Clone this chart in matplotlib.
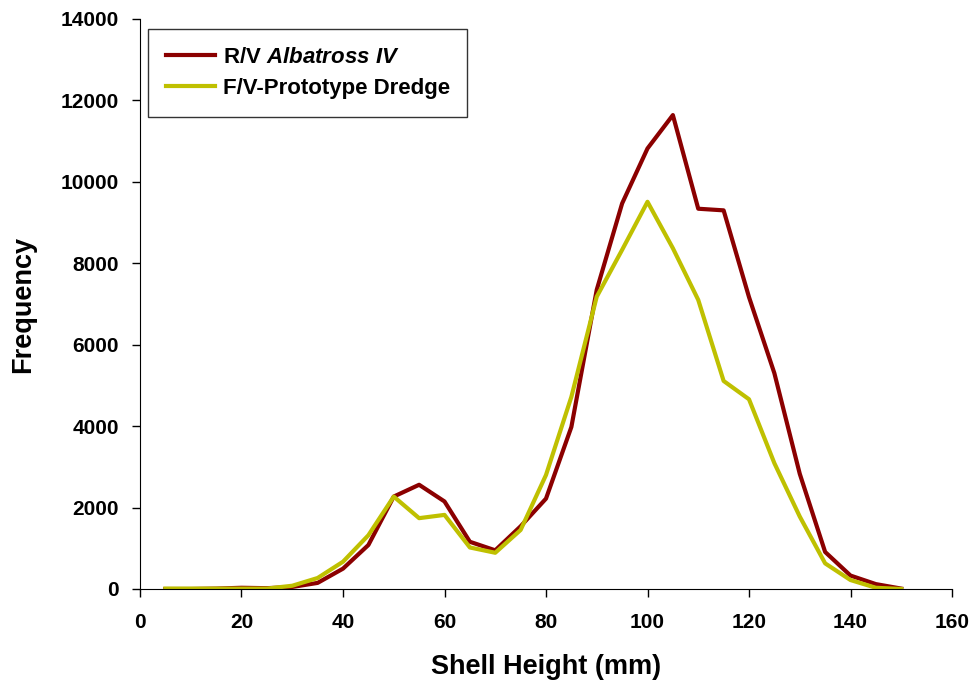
import matplotlib
matplotlib.use("Agg")
import matplotlib.pyplot as plt

plt.rcParams["font.family"] = "Liberation Sans"
plt.rcParams["font.weight"] = "bold"
plt.rcParams["mathtext.fontset"] = "custom"
plt.rcParams["mathtext.it"] = "Liberation Sans:bold:italic"
plt.rcParams["mathtext.rm"] = "Liberation Sans:bold"

# shell height classes (mm)
shell_height = [5, 10, 15, 20, 25, 30, 35, 40, 45, 50, 55, 60, 65, 70, 75,
                80, 85, 90, 95, 100, 105, 110, 115, 120, 125, 130, 135, 140, 145, 150]
albatross = [0, 0, 10, 30, 20, 50, 150, 500, 1080, 2270, 2560, 2150, 1160, 950, 1540,
             2220, 3980, 7350, 9470, 10820, 11640, 9340, 9300, 7170, 5300, 2830, 910, 330, 120, 10]
prototype = [10, 10, 10, 10, 10, 80, 270, 670, 1320, 2270, 1740, 1820, 1020, 890, 1450,
             2800, 4720, 7180, 8330, 9510, 8370, 7100, 5110, 4660, 3090, 1780, 630, 220, 30, 0]

fig = plt.figure(figsize=(9.78, 6.9), dpi=100)
ax = fig.add_axes([140 / 978, 101 / 690, 812 / 978, 570 / 690])

ax.plot(shell_height, albatross, color="#8b0000", lw=3, label=r"R/V $\mathit{Albatross\ IV}$")
ax.plot(shell_height, prototype, color="#bfc000", lw=3, label="F/V-Prototype Dredge")

ax.set_xlim(0, 160)
ax.set_ylim(0, 14000)
ax.set_xticks(range(0, 161, 20))
ax.set_yticks(range(0, 14001, 2000))
ax.spines["top"].set_visible(False)
ax.spines["right"].set_visible(False)
ax.tick_params(direction="out", length=6, width=1, labelsize=15)
ax.tick_params(axis="x", pad=11)
ax.tick_params(axis="y", pad=9)
for lbl in ax.get_xticklabels() + ax.get_yticklabels():
    lbl.set_fontweight("bold")

ax.set_xlabel("Shell Height (mm)", fontsize=19.5, fontweight="bold", labelpad=16)
ax.set_ylabel("Frequency", fontsize=19.5, fontweight="bold", labelpad=18)

leg = ax.legend(loc="upper left", bbox_to_anchor=(0.01, 0.982), fontsize=16,
                frameon=True, fancybox=False, edgecolor="black", handlelength=2.2,
                handletextpad=0.35, borderpad=0.8, labelspacing=0.45, borderaxespad=0)
leg.get_frame().set_linewidth(1)
for t in leg.get_texts():
    t.set_fontweight("bold")

fig.savefig("out.png", dpi=100)
